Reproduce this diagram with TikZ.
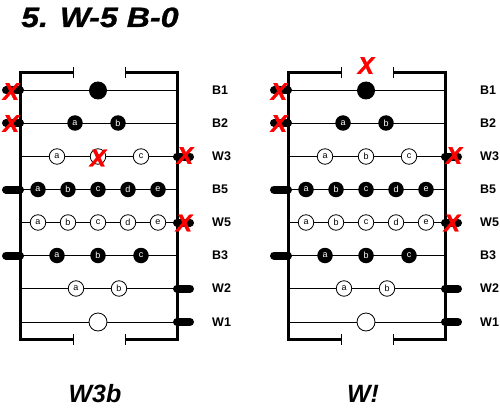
\documentclass[tikz,border=0pt]{standalone}
\usepackage{fontspec}
\setmainfont{Liberation Sans}
\newfontface\heavyface{Liberation Sans Bold Italic}[FakeBold=1.6]
\newfontface\semiheavyface{Liberation Sans Bold Italic}[FakeBold=0.8]

\begin{document}
\begin{tikzpicture}[
  x=1pt, y=-1pt,
  frame/.style={line width=3pt, line join=miter},
  tick/.style={line width=1pt},
  wire/.style={line width=0.9pt},
  stub/.style={line width=8pt, line cap=round},
  stone/.style={circle, inner sep=0pt, minimum size=15.5pt,
                font=\fontsize{9}{9}\selectfont},
  bstone/.style={stone, fill=black, text=white},
  wstone/.style={stone, draw=black, line width=0.8pt, fill=white},
  big/.style={minimum size=18pt},
  lbl/.style={anchor=west, inner sep=0pt, font=\bfseries\fontsize{12.5}{12.5}\selectfont},
  heading/.style={anchor=base west, inner sep=0pt, font=\semiheavyface\fontsize{28}{28}\selectfont},
  caption/.style={anchor=base, inner sep=0pt, font=\bfseries\itshape\fontsize{25}{25}\selectfont},
  cross/.style={inner sep=0pt, text=red, font=\heavyface\fontsize{24}{24}\selectfont}
]
\useasboundingbox (0,0) rectangle (500,417);

\node[heading] (title) at (21,27) {\scalebox{1.15}[1]{5. W-5 B-0}};

\foreach \p/\dx/\lab in {L/0/W3b, R/268/W!} {
\begin{scope}[xshift=\dx]
  % rows
  \foreach \r/\y in {B1/90.5, B2/123, W3/156.5, B5/189.5, W5/222.5, B3/255.5, W2/288.5, W1/322} {
    \coordinate (\p-\r-w) at (20,\y);
    \coordinate (\p-\r-e) at (177,\y);
    \draw[wire] (\p-\r-w) -- (\p-\r-e);
    \node[lbl] (\p-\r) at (212,\y) {\r};
  }
  % stubs
  \foreach \r in {B1,B2,B5,B3} \draw[stub] (\p-\r-w) -- ++(-14,0);
  \foreach \r in {W3,W5,W2,W1} \draw[stub] (\p-\r-e) -- ++(13,0);
  % frame with the two gaps
  \draw[frame] (73,72.5) -- (20,72.5) -- (20,339) -- (73,339);
  \draw[frame] (125,72.5) -- (177,72.5) -- (177,339) -- (125,339);
  \foreach \gx in {73,125} {
    \draw[tick] (\gx,67) -- (\gx,78);
    \draw[tick] (\gx,333.5) -- (\gx,344.5);
  }
  % stones
  \node[bstone, big] (\p-B1a) at (98,90.5) {};
  \foreach \l/\sx in {a/75, b/118} \node[bstone] (\p-B2\l) at (\sx,123) {\l};
  \foreach \l/\sx in {a/57, b/98, c/141} \node[wstone] (\p-W3\l) at (\sx,156.5) {\l};
  \foreach \l/\sx in {a/38, b/68, c/98, d/128, e/158} {
    \node[bstone] (\p-B5\l) at (\sx,189.5) {\l};
    \node[wstone] (\p-W5\l) at (\sx,222.5) {\l};
  }
  \foreach \l/\sx in {a/57, b/98, c/141} \node[bstone] (\p-B3\l) at (\sx,255.5) {\l};
  \foreach \l/\sx in {a/76, b/119} \node[wstone] (\p-W2\l) at (\sx,288.5) {\l};
  \node[wstone, big] (\p-W1a) at (98,322) {};
  % caption
  \node[caption] (\p-cap) at (95,402) {\lab};
\end{scope}
}

% captures
\node[cross] (L-xB1) at (11,91.5) {X};
\node[cross] (L-xB2) at (11,123.5) {X};
\node[cross] (L-xW3b) at (98,158) {X};
\node[cross] (L-xW3) at (185,155.5) {X};
\node[cross] (L-xW5) at (184,223) {X};
\node[cross] (R-xtop) at (366,65.5) {X};
\node[cross] (R-xB1) at (279,91.5) {X};
\node[cross] (R-xB2) at (279,123.5) {X};
\node[cross] (R-xW3) at (454,155.5) {X};
\node[cross] (R-xW5) at (452,223) {X};
\end{tikzpicture}
\end{document}
